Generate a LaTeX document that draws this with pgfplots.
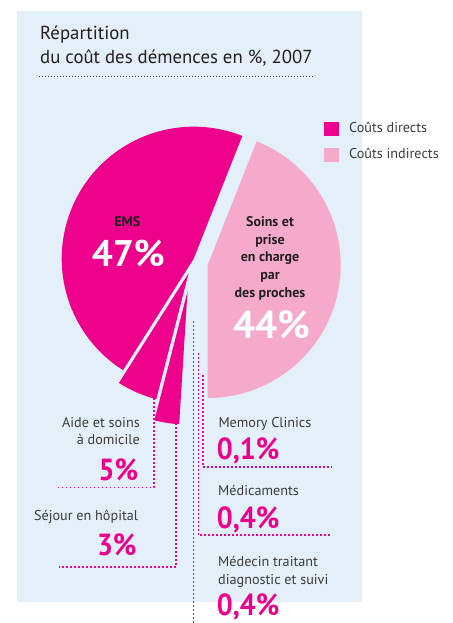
\documentclass[border=0pt]{standalone}
\usepackage{pgfplots}
\pgfplotsset{compat=1.18}
\usepackage{pgfplotstable}
\usepackage{fontspec}
\setmainfont{PT Sans}

\definecolor{bg}{HTML}{E3F0FA}
\definecolor{mag}{HTML}{EC008C}
\definecolor{rose}{HTML}{F5AACB}
\definecolor{txt}{HTML}{3C3C3C}
\definecolor{dark}{HTML}{231F20}

\newcommand\pc[1]{\scalebox{0.92}[1]{#1}}
\tikzset{
    lbl/.style={font=\fontsize{14.2}{16}\selectfont, text=txt, inner sep=0pt},
    pct/.style={font=\fontsize{30.5}{31}\selectfont\bfseries, text=mag, inner sep=0pt},
    lead/.style={mag, line width=1.6pt, dash pattern=on 1.8pt off 2.2pt},
}

% parts in %, in pie order from -90 deg; cx cy r = tip of the exploded slice (px)
\pgfplotstableread{
part     value  cx     cy     r    col
soins    44     207.7  265.0  133  rose
EMS      47     193.7  258.7  132  mag
aide     5      188.6  273.2  130  mag
sejour   3      187.5  291.5  133  mag
memory   0.1    0      0      0    mag
medic    0.4    0      0      0    mag
medecin  0.4    0      0      0    mag
}\slices

\begin{document}
\begin{tikzpicture}
\path[use as bounding box] (0,0) rectangle (452pt,623pt);
\begin{axis}[
    at={(0,0)}, anchor=south west,
    width=452pt, height=623pt, scale only axis,
    xmin=0, xmax=452, ymin=0, ymax=623,
    y dir=reverse, hide axis, clip=false,
]
% background
\fill[bg] (axis cs:17,11) rectangle (axis cs:362,602);

% title
\node[anchor=base west, inner sep=0pt, text=dark, font=\fontsize{18.8}{20}\selectfont]
    at (axis cs:40,39.3) {Répartition};
\node[anchor=base west, inner sep=0pt, text=dark, font=\fontsize{18.8}{20}\selectfont]
    at (axis cs:40,64) {du coût des démences en \%, 2007};
\draw[txt, line width=0.9pt, dash pattern=on 0.9pt off 2.1pt]
    (axis cs:39,76) -- (axis cs:314,76);

% leader lines
\draw[lead] (axis cs:154,390) -- (axis cs:154,487.3) -- (axis cs:58,487.3);
\draw[lead] (axis cs:176,415) -- (axis cs:176,566.7) -- (axis cs:59,566.7);
\draw[lead] (axis cs:202.7,375) -- (axis cs:202.7,466.7) -- (axis cs:332,466.7);
\draw[lead] (axis cs:198.3,353) -- (axis cs:198.3,535) -- (axis cs:332,535);
\draw[lead] (axis cs:193.3,321) -- (axis cs:193.3,623);

% pie slices from the table
\pgfplotsextra{%
  \pgfplotstablegetrowsof{\slices}%
  \pgfmathtruncatemacro\nrows{\pgfplotsretval-1}%
  \gdef\acc{-90}%
  \foreach \i in {0,...,\nrows}{%
    \pgfplotstablegetelem{\i}{value}\of{\slices}\let\v\pgfplotsretval
    \pgfplotstablegetelem{\i}{cx}\of{\slices}\let\cx\pgfplotsretval
    \pgfplotstablegetelem{\i}{cy}\of{\slices}\let\cy\pgfplotsretval
    \pgfplotstablegetelem{\i}{r}\of{\slices}\let\r\pgfplotsretval
    \pgfplotstablegetelem{\i}{col}\of{\slices}\let\col\pgfplotsretval
    \pgfmathsetmacro\s{\acc}%
    \pgfmathsetmacro\e{\acc+3.6*\v}%
    \ifdim\r pt>0pt
      \fill[\col] (axis cs:\cx,\cy) -- ++(\s:\r pt)
        arc[start angle=\s, end angle=\e, radius=\r pt] -- cycle;
    \fi
    \xdef\acc{\e}%
  }%
}

% legend
\fill[mag] (axis cs:324,121.7) rectangle (axis cs:339,136);
\fill[rose] (axis cs:324,148.3) rectangle (axis cs:339,161.7);
\node[lbl, anchor=base west] at (axis cs:349,132) {Coûts directs};
\node[lbl, anchor=base west] at (axis cs:349,158) {Coûts indirects};

% labels inside the pie
\node[inner sep=0pt, anchor=base, text=dark, font=\fontsize{14}{16}\selectfont\bfseries]
    at (axis cs:127.3,226) {EMS};
\node[inner sep=0pt, anchor=base, text=white, font=\fontsize{37}{37}\selectfont\bfseries]
    at (axis cs:128.3,266.7) {47\%};
\node[inner sep=0pt, anchor=base, text=dark, align=center,
      font=\fontsize{14}{17.65}\selectfont\bfseries]
    at (axis cs:270,297.1) {Soins et\\prise\\en charge\\par\\des proches};
\node[inner sep=0pt, anchor=base, text=white, font=\fontsize{39}{39}\selectfont\bfseries]
    at (axis cs:271.7,338.3) {44\%};

% labels outside
\node[lbl, anchor=base east] at (axis cs:140,427) {Aide et soins};
\node[lbl, anchor=base east] at (axis cs:140,444.5) {à domicile};
\node[pct, anchor=base east] at (axis cs:138.3,480) {\pc{5\%}};
\node[lbl, anchor=base east] at (axis cs:138.3,520.5) {Séjour en hôpital};
\node[pct, anchor=base east] at (axis cs:136.7,555.7) {\pc{3\%}};

\node[lbl, anchor=base west] at (axis cs:218.3,427) {Memory Clinics};
\node[pct, anchor=base west] at (axis cs:216.7,459) {\pc{0,1\%}};
\node[lbl, anchor=base west] at (axis cs:218,495.5) {Médicaments};
\node[pct, anchor=base west] at (axis cs:216.7,528.3) {\pc{0,4\%}};
\node[lbl, anchor=base west] at (axis cs:218,566) {Médecin traitant};
\node[lbl, anchor=base west] at (axis cs:218,584.5) {diagnostic et suivi};
\node[pct, anchor=base west] at (axis cs:216.7,615) {\pc{0,4\%}};
\end{axis}
\end{tikzpicture}
\end{document}
